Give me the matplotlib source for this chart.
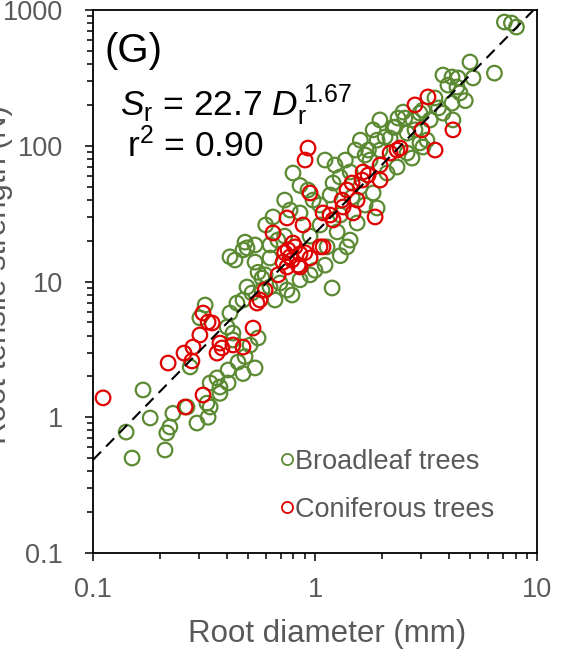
import matplotlib
matplotlib.use('Agg')
import matplotlib.pyplot as plt
from matplotlib.lines import Line2D
from matplotlib.ticker import LogLocator, NullFormatter, FixedFormatter, FixedLocator
import numpy as np

# root diameter (mm) / tensile strength (N)
broad_d = [0.168, 0.141, 0.150, 0.181, 0.211, 0.215, 0.222, 0.229, 0.265, 0.274,
           0.294, 0.330, 0.326, 0.337, 0.362, 0.373, 0.406, 0.406, 0.427, 0.450,
           0.537, 0.554, 0.320, 0.414, 0.445, 0.337, 0.373, 0.484, 0.510, 0.474,
           0.414, 0.436, 0.484, 0.494, 0.474, 0.627, 0.627, 0.554, 0.577, 0.596,
           0.627, 0.696, 0.748, 0.788, 0.494, 0.520, 0.474, 0.402, 0.427, 0.303,
           1.194, 1.394, 1.133, 1.258, 0.856, 0.772, 0.647, 0.730, 0.950, 1.054,
           1.000, 0.537, 0.577, 0.660,
           0.796, 0.930, 0.980, 1.206, 1.297, 1.439, 1.469, 1.597, 1.548, 1.439,
           1.827, 1.904, 1.964, 2.068, 1.904, 1.827, 2.178, 2.294, 2.366, 2.492,
           2.968, 3.062, 3.192, 2.734, 2.342, 2.111, 1.682, 7.13, 7.67, 8.08,
           6.43, 4.99, 5.15, 3.77, 4.14, 4.41, 3.97, 4.50, 3.47, 4.14,
           3.77, 4.18, 2.76, 2.54, 2.25, 2.60, 3.06, 2.97, 2.60, 4.36,
           1.11, 1.23, 1.37, 1.52, 1.60, 1.74, 1.17, 1.05, 1.68, 1.77,
           1.30, 0.856, 0.730, 0.600, 0.680, 0.537, 0.856, 0.950, 1.11, 1.30,
           1.96, 2.82, 3.30, 3.60, 4.75]
broad_s = [1.59, 0.778, 0.501, 0.988, 0.574, 0.766, 0.848, 1.07, 1.19, 2.35,
           0.907, 1.00, 1.27, 1.79, 1.95, 1.67, 1.79, 2.23, 4.17, 2.55,
           2.31, 3.84, 6.71, 5.86, 6.94, 1.19, 1.50, 2.80, 3.40, 2.10,
           15.2, 14.4, 19.5, 17.7, 17.1, 18.6, 14.9, 11.7, 10.6, 11.2,
           9.11, 9.75, 8.66, 7.96, 9.11, 8.23, 7.31, 4.62, 3.71, 5.40,
           8.96, 18.0, 18.0, 23.2, 32.0, 33.6, 29.9, 21.6, 21.6, 26.1,
           12.1, 13.9, 8.66, 7.31,
           63.0, 47.2, 39.8, 53.2, 58.9, 64.1, 41.9, 49.7, 27.0, 20.2,
           44.9, 34.8, 93.0, 116, 110, 131, 114, 137, 160, 177,
           174, 97.9, 110, 81.2, 69.7, 63.0, 85.5, 816, 802, 749,
           343, 414, 316, 332, 321, 316, 280, 245, 225, 206,
           174, 155, 155, 160, 137, 124, 183, 105, 88.4, 271,
           78.5, 72.1, 78.5, 93.0, 110, 93.0, 43.4, 36.6, 36.6, 78.5,
           30.9, 51.0, 39.8, 26.1, 20.2, 18.6, 10.3, 11.2, 13.2, 15.5,
           155, 131, 155, 190, 215]

conif_d = [0.111, 0.218, 0.257, 0.279, 0.282, 0.303, 0.313, 0.344, 0.362, 0.381,
           0.427, 0.474, 0.526, 0.260, 0.313, 0.548, 0.596, 0.330, 0.647, 0.756,
           0.788, 0.813, 0.718, 0.748, 0.856, 0.950, 1.054, 0.682, 0.748, 0.883,
           1.087, 1.206, 1.338, 1.485, 0.930, 0.902, 0.950, 0.796, 1.169, 1.324,
           1.394, 1.469, 1.548, 1.630, 1.647, 1.735, 1.865, 1.964, 1.964, 2.178,
           2.342, 2.416, 2.820, 3.226, 3.030, 4.181, 3.473, 0.565, 0.373, 0.772,
           0.856, 1.087, 0.840, 0.900, 0.730]
conif_s = [1.39, 2.51, 2.97, 2.60, 3.29, 4.04, 5.86, 4.95, 2.97, 3.24,
           3.41, 3.29, 4.54, 1.19, 1.46, 6.94, 8.66, 5.03, 22.8, 17.1,
           14.4, 18.0, 13.9, 12.8, 12.8, 14.9, 18.0, 11.2, 29.4, 26.1,
           32.0, 28.4, 35.4, 32.0, 96.2, 78.5, 44.9, 19.2, 30.9, 39.8,
           47.2, 53.2, 39.8, 55.9, 64.1, 60.9, 29.9, 55.9, 72.1, 88.4,
           93.0, 96.2, 200, 229, 131, 131, 93.0, 7.31, 3.52, 15.2,
           16.0, 18.0, 13.2, 16.3, 16.3]

fit_a = 22.7
fit_b = 1.67

green = '#5B8A32'
red = '#E00000'
grey = '#595959'

plt.rcParams['font.family'] = ['Liberation Sans', 'DejaVu Sans']
plt.rcParams['mathtext.fontset'] = 'custom'
plt.rcParams['mathtext.rm'] = 'Liberation Sans'
plt.rcParams['mathtext.it'] = 'Liberation Sans:italic'

fig = plt.figure(figsize=(5.73, 6.51), dpi=100)
ax = fig.add_axes([0.1623, 0.1505, 0.7749, 0.8341])

ax.scatter(broad_d, broad_s, s=110, facecolors='none', edgecolors=green, linewidths=1.6, zorder=2)
ax.scatter(conif_d, conif_s, s=110, facecolors='none', edgecolors=red, linewidths=1.6, zorder=3)

xf = np.logspace(-1, np.log10((1000 / fit_a) ** (1 / fit_b)), 50)
ax.plot(xf, fit_a * xf ** fit_b, color='black', lw=1.5, dashes=(5.5, 3.5), zorder=4)

ax.set_xscale('log')
ax.set_yscale('log')
ax.set_xlim(0.1, 10)
ax.set_ylim(0.1, 1000)

ax.xaxis.set_major_locator(FixedLocator([0.1, 1, 10]))
ax.xaxis.set_major_formatter(FixedFormatter(['0.1', '1', '10']))
ax.yaxis.set_major_locator(FixedLocator([0.1, 1, 10, 100, 1000]))
ax.yaxis.set_major_formatter(FixedFormatter(['0.1', '1', '10', '100', '1000']))
ax.xaxis.set_minor_locator(LogLocator(base=10, subs=np.arange(2, 10)))
ax.yaxis.set_minor_locator(LogLocator(base=10, subs=np.arange(2, 10)))
ax.xaxis.set_minor_formatter(NullFormatter())
ax.yaxis.set_minor_formatter(NullFormatter())

ax.tick_params(which='major', direction='out', length=6, width=1.1, labelsize=19.5,
               labelcolor=grey, top=False, right=False)
ax.tick_params(which='minor', direction='out', length=4.5, width=1.1, top=False, right=False)
ax.tick_params(axis='x', which='major', pad=11.5)
ax.tick_params(axis='y', which='major', pad=15.5)
for sp in ax.spines.values():
    sp.set_linewidth(1.3)
    sp.set_color('black')

ax.set_xlabel('Root diameter (mm)', fontsize=22.5, color=grey)
ax.xaxis.set_label_coords(0.527, -0.122)
fig.text(-0.003, 0.578, 'Root tensile strength (N)', rotation=90, fontsize=22.5,
         color=grey, ha='center', va='center')

ax.text(0.027, 0.9245, '(G)', transform=ax.transAxes, fontsize=29, color='black', va='center')
ax.text(0.06, 0.8066, r'$\mathit{S}_\mathregular{r}$ = 22.7 $\mathit{D}_\mathregular{r}^{\,\mathregular{1.67}}$',
        transform=ax.transAxes, fontsize=25.5, color='black', va='baseline')
ax.text(0.077, 0.729, r'r$^\mathregular{2}$ = 0.90', transform=ax.transAxes, fontsize=25.5,
        color='black', va='baseline')

handles = [Line2D([], [], ls='none', marker='o', ms=8, mfc='none', mec=green, mew=1.3),
           Line2D([], [], ls='none', marker='o', ms=8, mfc='none', mec=red, mew=1.3)]
leg = ax.legend(handles, ['Broadleaf trees', 'Coniferous trees'], loc='center left',
                bbox_to_anchor=(0.421, 0.124), frameon=False, fontsize=19.5,
                handlelength=0.5, handletextpad=0.05, borderpad=0, borderaxespad=0,
                labelspacing=0.8)
for t in leg.get_texts():
    t.set_color(grey)

fig.savefig('out.png', dpi=100)
